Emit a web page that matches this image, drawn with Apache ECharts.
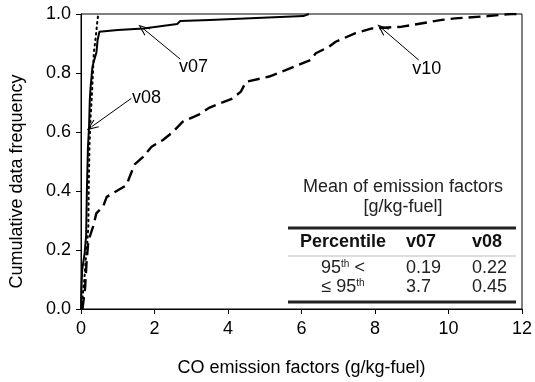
<!DOCTYPE html>
<html>
<head>
<meta charset="utf-8">
<script src="https://cdn.jsdelivr.net/npm/echarts@6/dist/echarts.min.js"></script>
<style>
  html, body { margin: 0; padding: 0; background: #fff; }
  #mainChart { width: 535px; height: 382px; }
</style>
</head>
<body>
<div id="mainChart"></div>
<script>
// cumulative frequency curves, [emission factor, cumulative frequency]
var v07Cdf = [
  [0, 0], [0.01, 0.06], [0.03, 0.13], [0.1, 0.19], [0.14, 0.25], [0.16, 0.4], [0.19, 0.55],
  [0.22, 0.62], [0.24, 0.71], [0.26, 0.75], [0.31, 0.82], [0.35, 0.84], [0.42, 0.87],
  [0.45, 0.91], [0.5, 0.94], [1.0, 0.946], [1.7, 0.951], [2.62, 0.966], [2.7, 0.976],
  [3.5, 0.98], [6.05, 0.993], [6.2, 1.0]
];
var v08Cdf = [
  [0.02, 0], [0.05, 0.05], [0.09, 0.1], [0.13, 0.17], [0.17, 0.22], [0.2, 0.28], [0.21, 0.4],
  [0.23, 0.55], [0.26, 0.65], [0.29, 0.71], [0.32, 0.79], [0.35, 0.87], [0.4, 0.92],
  [0.44, 0.97], [0.47, 1.0]
];
var v10Cdf = [
  [0.04, 0], [0.06, 0.02], [0.11, 0.07], [0.15, 0.155], [0.2, 0.23], [0.33, 0.28], [0.42, 0.325],
  [0.6, 0.347], [0.7, 0.38], [0.97, 0.4], [1.24, 0.42], [1.33, 0.45], [1.46, 0.49], [1.69, 0.516],
  [1.92, 0.55], [2.23, 0.573], [2.5, 0.6], [2.77, 0.635], [3.22, 0.66], [3.5, 0.683], [4.13, 0.714],
  [4.35, 0.737], [4.49, 0.77], [5.12, 0.788], [5.57, 0.81], [6.25, 0.844], [6.39, 0.867],
  [6.75, 0.889], [6.93, 0.906], [7.47, 0.935], [7.92, 0.951], [8.73, 0.957], [9.82, 0.98],
  [10.18, 0.985], [11.08, 0.993], [11.7, 1.0], [12, 1.0]
];

// inset table: mean of emission factors
var tableHeader = ['Percentile', 'v07', 'v08'];
var percentiles = ['95{sup|th} <', '≤ 95{sup|th}'];
var meanV07 = ['0.19', '3.7'];
var meanV08 = ['0.22', '0.45'];

var fontFamily = '"Liberation Sans", Arial, sans-serif';
var fontSize = 18;
var arrowHead = 'path://M5,0L10,12L9,12.6L5,3L1,12.6L0,12Z';

function annotate(name, textAt, from, tip) {
  return {
    markLine: {
      silent: true,
      animation: false,
      symbol: ['none', arrowHead],
      symbolSize: [9, 12],
      lineStyle: {color: '#000', width: 1, type: 'solid'},
      label: {show: false},
      data: [[{coord: from}, {coord: tip}]]
    },
    markPoint: {
      silent: true,
      animation: false,
      symbol: 'circle',
      symbolSize: 1,
      itemStyle: {color: 'rgba(0,0,0,0)'},
      label: {show: true, position: 'inside', formatter: name, color: '#000', fontSize: fontSize, fontFamily: fontFamily},
      data: [{coord: textAt}]
    }
  };
}

function buildTable() {
  var els = [];
  var colX = [343, 406, 472];
  els.push({type: 'text', style: {text: 'Mean of emission factors', x: 403, y: 187, align: 'center', verticalAlign: 'middle', fontSize: fontSize, fontFamily: fontFamily, fill: '#222'}});
  els.push({type: 'text', style: {text: '[g/kg-fuel]', x: 403, y: 207, align: 'center', verticalAlign: 'middle', fontSize: fontSize, fontFamily: fontFamily, fill: '#222'}});
  els.push({type: 'line', shape: {x1: 288, y1: 228, x2: 516, y2: 228}, style: {stroke: '#222', lineWidth: 3}});
  els.push({type: 'line', shape: {x1: 288, y1: 256, x2: 516, y2: 256}, style: {stroke: '#bbb', lineWidth: 1}});
  els.push({type: 'line', shape: {x1: 288, y1: 302, x2: 516, y2: 302}, style: {stroke: '#222', lineWidth: 3}});
  for (var i = 0; i < tableHeader.length; i++) {
    els.push({type: 'text', style: {
      text: tableHeader[i], x: colX[i], y: 242, align: i === 0 ? 'center' : 'left', verticalAlign: 'middle',
      fontSize: fontSize, fontWeight: 'bold', fontFamily: fontFamily, fill: '#111'
    }});
  }
  for (var r = 0; r < percentiles.length; r++) {
    var y = 268 + r * 19.5;
    var cells = [percentiles[r], meanV07[r], meanV08[r]];
    for (var c = 0; c < cells.length; c++) {
      els.push({type: 'text', style: {
        text: cells[c], x: colX[c], y: y, align: c === 0 ? 'center' : 'left', verticalAlign: 'middle',
        fontSize: fontSize, fontFamily: fontFamily, fill: '#222',
        rich: {sup: {fontSize: 10, verticalAlign: 'top', fontFamily: fontFamily, fill: '#222', padding: [0, 0, 6, 0]}}
      }});
    }
  }
  return els;
}

var a07 = annotate('v07', [3.06, 0.821], [2.7, 0.847], [1.69, 0.951]);
var a08 = annotate('v08', [1.78, 0.715], [1.37, 0.714], [0.29, 0.618]);
var a10 = annotate('v10', [9.41, 0.813], [9.19, 0.844], [8.19, 0.951]);

var option = {
  animation: false,
  backgroundColor: '#fff',
  textStyle: {fontFamily: fontFamily},
  grid: {
    left: 81,
    right: 11,
    top: 14,
    bottom: 73,
    show: true,
    borderColor: '#000',
    borderWidth: 1
  },
  xAxis: {
    type: 'value',
    min: 0,
    max: 12,
    interval: 2,
    name: 'CO emission factors (g/kg-fuel)',
    nameLocation: 'middle',
    nameGap: 50,
    nameTextStyle: {fontSize: fontSize, color: '#000', fontFamily: fontFamily},
    axisLine: {show: true, onZero: false, lineStyle: {color: '#000', width: 1}},
    axisTick: {show: true, inside: false, length: 5, lineStyle: {color: '#000'}},
    axisLabel: {fontSize: fontSize, color: '#000', margin: 11, fontFamily: fontFamily},
    splitLine: {show: false}
  },
  yAxis: {
    type: 'value',
    min: 0,
    max: 1,
    interval: 0.2,
    name: 'Cumulative data frequency',
    nameLocation: 'middle',
    nameGap: 55,
    nameTextStyle: {fontSize: fontSize, color: '#000', fontFamily: fontFamily, padding: [0, 40, 0, 0]},
    axisLine: {show: true, onZero: false, lineStyle: {color: '#000', width: 1}},
    axisTick: {show: true, inside: false, length: 5, lineStyle: {color: '#000'}},
    axisLabel: {
      fontSize: fontSize, color: '#000', margin: 10, fontFamily: fontFamily,
      formatter: function (v) { return v.toFixed(1); }
    },
    splitLine: {show: false}
  },
  series: [
    {
      name: 'v10',
      type: 'line',
      data: v10Cdf,
      showSymbol: false,
      lineStyle: {color: '#000', width: 2.4, type: [12, 6]},
      markLine: a10.markLine,
      markPoint: a10.markPoint,
      z: 2
    },
    {
      name: 'v08',
      type: 'line',
      data: v08Cdf,
      showSymbol: false,
      lineStyle: {color: '#000', width: 2, type: [1.5, 4], cap: 'round'},
      markLine: a08.markLine,
      markPoint: a08.markPoint,
      z: 3
    },
    {
      name: 'v07',
      type: 'line',
      data: v07Cdf,
      showSymbol: false,
      lineStyle: {color: '#000', width: 2},
      markLine: a07.markLine,
      markPoint: a07.markPoint,
      z: 4
    }
  ],
  graphic: buildTable()
};

var myChart = echarts.init(document.getElementById('mainChart'));
myChart.setOption(option);
</script>
</body>
</html>
